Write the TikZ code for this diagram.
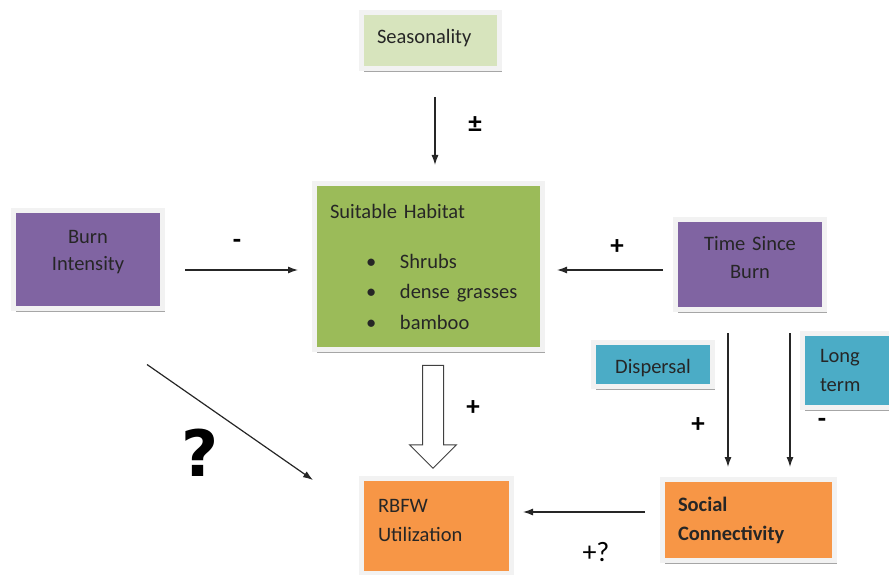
\documentclass[tikz,border=0pt]{standalone}
\usepackage{fontspec}
\setmainfont{Carlito}
\newfontfamily\qfont{DejaVu Sans}
\usetikzlibrary{arrows.meta,shadows,shapes.arrows}
\definecolor{SEASFILL}{HTML}{D7E4BD}
\definecolor{BURNFILL}{HTML}{8064A2}
\definecolor{HABFILL}{HTML}{9BBB59}
\definecolor{WATERFILL}{HTML}{4BACC6}
\definecolor{USEFILL}{HTML}{F79646}
\tikzset{
BOX/.style={draw=black!5, line width=5pt, fill=#1, inner sep=0pt, text=black!85,
  font=\fontsize{20.5}{28}\selectfont,
  drop shadow={shadow xshift=2pt, shadow yshift=-3pt, fill=black!35, opacity=1}},
LEFTBOX/.style={BOX=#1, align=left},
MIDBOX/.style={BOX=#1, align=center},
ARROW/.style={draw=black!85, line width=1.2pt, -{Latex[length=10pt,width=7pt]}},
SIGN/.style={font=\fontsize{27}{27}\selectfont\bfseries, text=black, inner sep=0pt},
}
\begin{document}
\begin{tikzpicture}[x=1pt, y=-1pt] %fire model
	\useasboundingbox (0,0) rectangle (889,575);
	% boxes
	\node[LEFTBOX=SEASFILL, minimum width=138pt, minimum height=56pt, text width=107pt] (seas) at (430.5,41) {Seasonality\par\vspace*{6pt}};
	\node[MIDBOX=BURNFILL, minimum width=149pt, minimum height=98pt, text width=120pt, font=\fontsize{20.5}{27}\selectfont] (burn) at (88,259.5) {Burn\\Intensity\par\vspace*{14pt}};
	\node[LEFTBOX=HABFILL, minimum width=228pt, minimum height=166pt, text width=197pt, font=\fontsize{20.5}{30.5}\selectfont] (hab) at (428.5,266.5)
		{Suitable Habitat\\[19.5pt]
		\hspace*{36pt}\makebox[34pt][l]{\textbullet}Shrubs\\
		\hspace*{36pt}\makebox[34pt][l]{\textbullet}dense grasses\\
		\hspace*{36pt}\makebox[34pt][l]{\textbullet}bamboo};
	\node[MIDBOX=BURNFILL, minimum width=149pt, minimum height=90pt, text width=120pt] (time) at (750,264.5) {Time Since\\Burn\par\vspace*{13pt}};
	\node[BOX=WATERFILL, minimum width=119pt, minimum height=44pt, text height=22pt, text depth=4pt] (disp) at (653,364.5) {Dispersal};
	\node[LEFTBOX=WATERFILL, minimum width=100pt, minimum height=74pt, text width=65pt, font=\fontsize{20.5}{29}\selectfont] (long) at (852.5,370.5) {Long\\term};
	\node[LEFTBOX=USEFILL, minimum width=150pt, minimum height=95pt, text width=117pt, font=\fontsize{20.5}{29}\selectfont] (rbfw) at (436.5,526) {RBFW\\Utilization\par\vspace*{12pt}};
	\node[LEFTBOX=USEFILL, minimum width=172pt, minimum height=81pt, text width=141pt, font=\fontsize{20.5}{29}\selectfont\bfseries] (soc) at (748.5,520) {Social\\Connectivity};
	% connectors
	\draw[ARROW] ([xshift=4.5pt,yshift=-25.5pt]seas.south) -- ([xshift=6.5pt,yshift=16pt]hab.north);
	\draw[ARROW] ([xshift=20pt,yshift=-10.5pt]burn.east) -- ([xshift=-14pt,yshift=-3.5pt]hab.west);
	\draw[ARROW] ([xshift=-10pt,yshift=-5.5pt]time.west) -- ([xshift=12pt,yshift=-3.5pt]hab.east);
	\draw[ARROW] ([xshift=59pt,yshift=-53.5pt]burn.south) -- ([xshift=-46pt,yshift=46pt]rbfw.west);
	\draw[ARROW] ([xshift=-22pt,yshift=-21pt]time.south) -- ([xshift=-20.5pt,yshift=10pt]soc.north);
	\draw[ARROW] ([xshift=40pt,yshift=-21pt]time.south) -- ([xshift=41.5pt,yshift=10pt]soc.north);
	\draw[ARROW] ([xshift=-15pt,yshift=8pt]soc.west) -- ([xshift=9pt,yshift=14pt]rbfw.east);
	\node[single arrow, draw=black!75, line width=1pt, fill=white, shape border rotate=270,
		minimum height=103pt, minimum width=46pt, inner sep=10pt,
		single arrow head extend=13pt, single arrow tip angle=90] (bigarrow) at (433,411.5) {};
	% signs
	\node[SIGN] (sgnseas) at (475,125) {±};
	\node[SIGN] (sgnburn) at (237,244) {-};
	\node[SIGN] (sgntime) at (617,247) {+};
	\node[SIGN] (sgnhab) at (473,408) {+};
	\node[SIGN, font=\qfont\fontsize{64}{64}\selectfont\bfseries] (sgnq) at (200,453) {?};
	\node[SIGN] (sgndisp) at (698,425) {+};
	\node[SIGN] (sgnlong) at (822,423) {-};
	\node[SIGN, font=\fontsize{28}{28}\selectfont] (sgnsoc) at (596,552) {+?};
\end{tikzpicture}
\end{document}
